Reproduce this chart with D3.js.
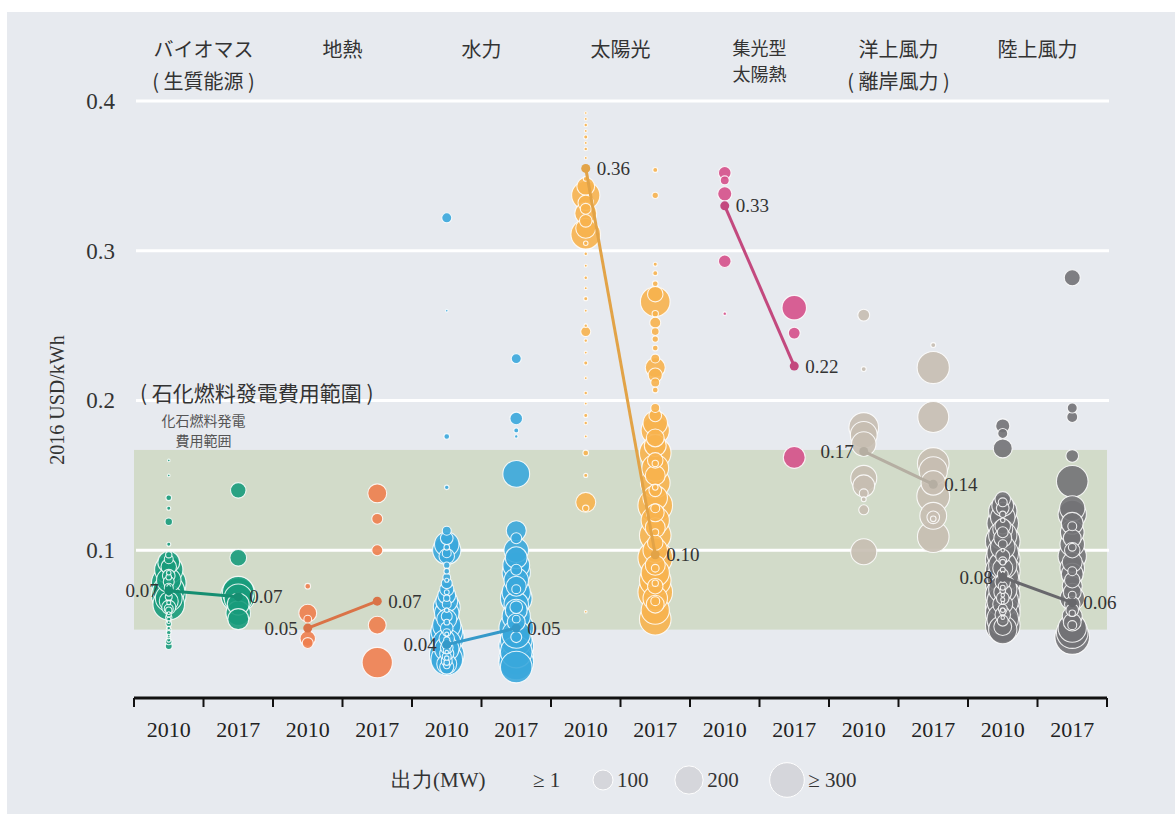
<!DOCTYPE html>
<html>
<head>
<meta charset="utf-8">
<script src="https://cdn.jsdelivr.net/npm/d3@7"></script>
<style>
  body { margin: 0; background: #fff; }
  svg { display: block; }
</style>
</head>
<body>
<svg id="chart"></svg>
<script>
// Category names and the Chinese notes under them
const techNames = ["バイオマス", "地熱", "水力", "太陽光", "集光型", "洋上風力", "陸上風力"];
const techSubNames = ["( 生質能源 )", "", "", "", "太陽熱", "( 離岸風力 )", ""];
const years = ["2010", "2017"];
const yTicks = [0.1, 0.2, 0.3, 0.4];
const fossilRange = [0.047, 0.167];

// weighted averages (USD/kWh) and their printed labels
const avg2010 = [0.073, 0.048, 0.037, 0.355, 0.330, 0.166, 0.082];
const avg2017 = [0.069, 0.066, 0.048, 0.097, 0.223, 0.144, 0.065];
const avgLabels2010 = ["0.07", "0.05", "0.04", "0.36", "0.33", "0.17", "0.08"];
const avgLabels2017 = ["0.07", "0.07", "0.05", "0.10", "0.22", "0.14", "0.06"];

// legend capacities (MW)
const legendSizes = [100, 200, 300];
const legendLabels = ["100", "200", "≥ 300"];

// projects: [USD/kWh, MW]
const biomass2010 = [[0.160,1],[0.150,1],[0.135,8],[0.128,4],[0.119,14],[0.104,4],[0.097,10],[0.092,120],[0.089,60],
  [0.087,200],[0.083,40],[0.080,150],[0.078,300],[0.075,20],[0.073,250],[0.070,300],[0.068,180],[0.066,90],[0.064,250],
  [0.062,50],[0.060,10],[0.057,6],[0.054,4],[0.051,8],[0.048,3],[0.045,5],[0.042,3],[0.039,10],[0.036,12],
  [0.085,5],[0.076,3],[0.071,6],[0.065,4],[0.058,2],[0.094,20],[0.082,8],[0.079,30],[0.069,12],[0.061,20],
  [0.055,10],[0.052,2],[0.047,6],[0.043,2],[0.040,4]];
const biomass2017 = [[0.140,60],[0.095,70],[0.072,250],[0.070,300],[0.068,200],[0.064,120],[0.058,150],[0.054,110]];
const geo2010 = [[0.076,8],[0.058,80],[0.054,15],[0.041,60],[0.038,30]];
const geo2017 = [[0.138,90],[0.121,30],[0.100,30],[0.050,80],[0.025,230]];
const hydro2010 = [[0.322,25],[0.260,1],[0.176,8],[0.142,5],[0.113,20],[0.108,40],[0.104,150],[0.100,200],[0.096,60],
  [0.090,10],[0.086,8],[0.082,15],[0.078,30],[0.074,50],[0.070,80],[0.066,120],[0.062,180],[0.058,150],[0.054,100],
  [0.050,200],[0.046,250],[0.042,300],[0.038,200],[0.034,150],[0.030,300],[0.027,250],[0.024,100],[0.022,50],
  [0.060,5],[0.052,8],[0.044,4],[0.040,10],[0.036,6],[0.032,3],[0.028,5],[0.025,8],[0.064,20],[0.056,30],
  [0.048,40],[0.045,15],[0.041,60],[0.037,25],[0.035,40],[0.033,12],[0.031,50],[0.029,20],[0.026,30],[0.023,10],
  [0.068,10],[0.072,6],[0.080,4],[0.098,20],[0.102,8]];
const hydro2017 = [[0.228,25],[0.188,40],[0.180,6],[0.176,3],[0.151,180],[0.113,100],[0.108,30],[0.100,150],[0.095,120],
  [0.090,180],[0.085,200],[0.080,150],[0.076,100],[0.072,200],[0.068,250],[0.064,150],[0.060,120],[0.056,200],
  [0.052,80],[0.048,300],[0.044,200],[0.040,250],[0.036,300],[0.032,250],[0.028,300],[0.025,300],[0.022,250],
  [0.087,30],[0.074,20],[0.062,40],[0.054,15],[0.042,30]];
const solar2010 = [[0.392,1],[0.388,2],[0.384,3],[0.380,2],[0.376,4],[0.372,2],[0.368,3],[0.362,2],[0.348,6],[0.343,80],
  [0.337,200],[0.332,60],[0.328,30],[0.325,120],[0.320,40],[0.315,100],[0.311,220],[0.305,5],[0.298,3],[0.290,2],
  [0.282,3],[0.275,2],[0.268,4],[0.260,2],[0.250,3],[0.246,25],[0.240,3],[0.232,2],[0.225,4],[0.215,2],[0.205,3],
  [0.198,2],[0.190,4],[0.185,3],[0.176,2],[0.165,8],[0.150,4],[0.132,100],[0.128,10],[0.059,1]];
const solar2017 = [[0.354,6],[0.337,10],[0.291,4],[0.285,6],[0.278,8],[0.271,60],[0.266,220],[0.258,10],[0.252,30],
  [0.246,15],[0.241,10],[0.235,8],[0.228,20],[0.222,100],[0.217,50],[0.212,20],[0.207,8],[0.195,20],[0.190,40],
  [0.185,150],[0.180,200],[0.175,80],[0.170,120],[0.165,250],[0.160,60],[0.155,180],[0.150,100],[0.145,220],
  [0.140,40],[0.135,150],[0.130,300],[0.125,80],[0.120,200],[0.115,100],[0.110,250],[0.105,60],[0.100,150],
  [0.095,300],[0.090,100],[0.085,200],[0.080,250],[0.076,60],[0.072,300],[0.068,150],[0.064,80],[0.060,200],[0.054,250],
  [0.158,10],[0.142,8],[0.128,20],[0.112,12],[0.098,6],[0.088,15],[0.078,10],[0.066,20]];
const csp2010 = [[0.352,40],[0.347,20],[0.338,50],[0.293,40],[0.258,3]];
const csp2017 = [[0.262,150],[0.245,35],[0.162,120]];
const offshore2010 = [[0.257,35],[0.221,6],[0.182,220],[0.177,180],[0.171,150],[0.148,170],[0.143,120],[0.138,20],
  [0.134,6],[0.127,25],[0.099,170]];
const offshore2017 = [[0.237,6],[0.222,260],[0.189,240],[0.158,250],[0.153,200],[0.145,150],[0.136,270],[0.123,180],
  [0.122,40],[0.121,8],[0.109,250]];
const onshore2010 = [[0.183,50],[0.178,25],[0.168,90],[0.134,60],[0.130,120],[0.126,200],[0.122,150],[0.118,250],
  [0.114,100],[0.110,200],[0.106,300],[0.102,150],[0.098,250],[0.094,300],[0.090,200],[0.086,300],[0.082,250],
  [0.078,300],[0.074,200],[0.070,300],[0.066,250],[0.062,300],[0.058,300],[0.054,250],[0.050,300],[0.047,200],
  [0.120,5],[0.100,3],[0.092,8],[0.085,2],[0.080,4],[0.075,6],[0.070,3],[0.065,2],[0.060,5],[0.055,3],
  [0.132,20],[0.128,40],[0.124,10],[0.116,60],[0.112,30],[0.108,80],[0.104,20],[0.096,50],[0.093,15],[0.088,100],
  [0.084,30],[0.079,60],[0.076,20],[0.072,80],[0.068,40],[0.064,100],[0.061,20],[0.057,60],[0.053,30],[0.049,80],
  [0.087,6],[0.073,8],[0.067,4],[0.059,10]];
const onshore2017 = [[0.282,64],[0.195,25],[0.189,30],[0.163,40],[0.146,250],[0.128,160],[0.124,200],[0.118,120],
  [0.112,140],[0.108,80],[0.104,150],[0.100,60],[0.096,200],[0.092,100],[0.088,150],[0.084,120],[0.080,60],
  [0.076,100],[0.072,80],[0.068,150],[0.064,60],[0.060,40],[0.056,100],[0.052,80],[0.048,200],[0.045,250],[0.042,300],
  [0.116,20],[0.102,15],[0.086,20],[0.070,15],[0.058,10],[0.050,20]];

const projects = [
  [biomass2010, biomass2017], [geo2010, geo2017], [hydro2010, hydro2017], [solar2010, solar2017],
  [csp2010, csp2017], [offshore2010, offshore2017], [onshore2010, onshore2017]
];

// colours per technology
const colors = ["#179b7b", "#ee7e4e", "#3aa7dc", "#f7b24e", "#d5508a", "#c6beb1", "#727276"];

const W = 1175, H = 814;
const serif = '"Liberation Serif", "Times New Roman", "DejaVu Serif", serif';
const cjk = '"Noto Sans CJK JP", "Noto Sans CJK TC", sans-serif';

const svg = d3.select("#chart").attr("width", W).attr("height", H);

// background panel
svg.append("rect").attr("x", 7).attr("y", 12).attr("width", W - 7).attr("height", H - 12).attr("fill", "#e7eaef");

// scales
const keys = [];
techNames.forEach((t, i) => years.forEach(yr => keys.push(i + "-" + yr)));
const x = d3.scaleBand().domain(keys).range([134, 1107]);
const y = d3.scaleLinear().domain([0, 0.4]).range([700, 101]);
const r = d3.scaleSqrt().domain([0, 300]).range([0, 17.3]).clamp(true);
const cx = (i, yr) => x(i + "-" + yr) + x.bandwidth() / 2;

// fossil fuel range band
svg.append("rect")
  .attr("x", x.range()[0]).attr("width", x.range()[1] - x.range()[0])
  .attr("y", y(fossilRange[1])).attr("height", y(fossilRange[0]) - y(fossilRange[1]))
  .attr("fill", "#d2dbc9");

// gridlines
svg.append("g").selectAll("line").data(yTicks).join("line")
  .attr("x1", 136).attr("x2", 1109)
  .attr("y1", d => y(d)).attr("y2", d => y(d))
  .attr("stroke", "#fff").attr("stroke-width", 3);

// y axis labels
const yAxis = svg.append("g").attr("transform", "translate(117,0)")
  .call(d3.axisLeft(y).tickValues(yTicks).tickSize(0).tickPadding(2).tickFormat(d3.format(".1f")));
yAxis.select(".domain").remove();
yAxis.selectAll("text").style("font-family", serif).style("font-size", "23px").attr("fill", "#333");

svg.append("text")
  .attr("transform", "translate(57,400) rotate(-90)")
  .attr("text-anchor", "middle").attr("dominant-baseline", "central")
  .style("font-family", serif).style("font-size", "20px").attr("fill", "#333")
  .text("2016 USD/kWh");

// fossil range note
const noteX = cx(0, "2010") + x.step() / 2;
svg.append("text").attr("x", 140).attr("y", 392).attr("dominant-baseline", "central")
  .style("font-family", cjk).style("font-size", "21px").attr("fill", "#333")
  .text("( 石化燃料發電費用範圍 )");
svg.append("text").attr("text-anchor", "middle").style("font-family", cjk).style("font-size", "14px").attr("fill", "#555")
  .selectAll("tspan").data(["化石燃料発電", "費用範囲"]).join("tspan")
  .attr("x", noteX).attr("y", (d, i) => 420 + i * 20).attr("dominant-baseline", "central")
  .text(d => d);

// project bubbles
projects.forEach((pair, i) => {
  pair.forEach((pts, j) => {
    const sorted = pts.slice().sort((a, b) => b[1] - a[1]);
    svg.append("g").selectAll("circle").data(sorted).join("circle")
      .attr("cx", cx(i, years[j]))
      .attr("cy", d => y(d[0]))
      .attr("r", d => Math.max(1.3, r(d[1])))
      .attr("fill", colors[i]).attr("fill-opacity", 0.9)
      .attr("stroke", "#fff").attr("stroke-width", 1.1).attr("stroke-opacity", 0.85);
  });
});

// average lines, dots and labels
const leftLabel2010 = [true, true, true, false, false, true, true];
techNames.forEach((t, i) => {
  const c = d3.color(colors[i]).darker(0.25).formatHex();
  const x0 = cx(i, "2010"), x1 = cx(i, "2017");
  svg.append("line").attr("x1", x0).attr("x2", x1)
    .attr("y1", y(avg2010[i])).attr("y2", y(avg2017[i]))
    .attr("stroke", c).attr("stroke-width", 3);
  svg.append("g").selectAll("circle").data([[x0, avg2010[i]], [x1, avg2017[i]]]).join("circle")
    .attr("cx", d => d[0]).attr("cy", d => y(d[1])).attr("r", 4.5).attr("fill", c);
  svg.append("text")
    .attr("x", leftLabel2010[i] ? x0 - 10 : x0 + 11).attr("y", y(avg2010[i]))
    .attr("text-anchor", leftLabel2010[i] ? "end" : "start").attr("dominant-baseline", "central")
    .style("font-family", serif).style("font-size", "19px").attr("fill", "#333")
    .text(avgLabels2010[i]);
  svg.append("text")
    .attr("x", x1 + 11).attr("y", y(avg2017[i]))
    .attr("dominant-baseline", "central")
    .style("font-family", serif).style("font-size", "19px").attr("fill", "#333")
    .text(avgLabels2017[i]);
});

// category labels on top
techNames.forEach((t, i) => {
  const mx = cx(i, "2010") + x.step() / 2;
  const sub = techSubNames[i];
  const paren = sub.startsWith("(");
  const lines = !sub ? [[t, 48]] : paren ? [[t, 48], [sub, 80]] : [[t, 47], [sub, 73]];
  svg.append("text").attr("text-anchor", "middle")
    .style("font-family", cjk).style("font-size", sub && !paren ? "18px" : "20px").attr("fill", "#333")
    .selectAll("tspan").data(lines).join("tspan")
    .attr("x", mx).attr("y", d => d[1]).attr("dominant-baseline", "central")
    .text(d => d[0]);
});

// x axis: line, boundary ticks and year labels
const axisY = 698;
svg.append("line").attr("x1", x.range()[0]).attr("x2", x.range()[1]).attr("y1", axisY).attr("y2", axisY)
  .attr("stroke", "#111").attr("stroke-width", 3);
const bounds = keys.map(k => x(k)).concat([x.range()[1]]);
svg.append("g").selectAll("line").data(bounds).join("line")
  .attr("x1", d => d).attr("x2", d => d).attr("y1", axisY).attr("y2", axisY + 9)
  .attr("stroke", "#111").attr("stroke-width", 2);
const xAxis = svg.append("g").attr("transform", `translate(0,${axisY})`)
  .call(d3.axisBottom(x).tickSize(0).tickPadding(31).tickFormat(d => d.split("-")[1]));
xAxis.select(".domain").remove();
xAxis.selectAll("text").style("font-family", serif).style("font-size", "22px").attr("fill", "#222")
  .attr("dy", 0).attr("dominant-baseline", "central");

// legend
const legY = 780;
const legText = (xp, txt) => svg.append("text").attr("x", xp).attr("y", legY).attr("dominant-baseline", "central")
  .style("font-family", serif).style("font-size", "21px").attr("fill", "#333").text(txt);
legText(391, "出力(MW)");
legText(533, "≥ 1");
const legX = [603, 689, 787];
legendSizes.forEach((s, k) => {
  svg.append("circle").attr("cx", legX[k]).attr("cy", legY).attr("r", r(s))
    .attr("fill", "#d5d6db").attr("stroke", "#fff").attr("stroke-width", 1);
  legText(legX[k] + r(s) + 4, legendLabels[k]);
});
</script>
</body>
</html>
